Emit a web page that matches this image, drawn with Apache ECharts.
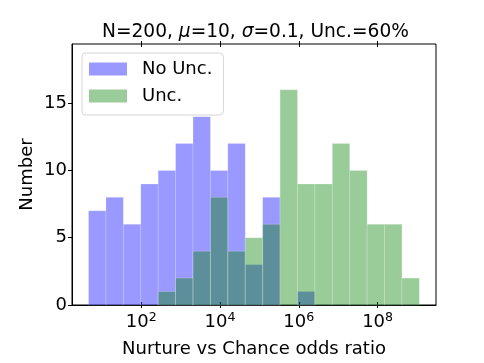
<!DOCTYPE html>
<html>
<head>
<meta charset="utf-8">
<script src="https://cdn.jsdelivr.net/npm/echarts@6/dist/echarts.min.js"></script>
<style>
  html, body { margin: 0; padding: 0; background: #fff; }
</style>
</head>
<body>
<div id="histChart" style="width: 484px; height: 363px;"></div>
<script>
// bin edges, log10 of the odds ratio
var binEdges = [0.662, 1.104, 1.546, 1.988, 2.430, 2.872, 3.314, 3.756, 4.198, 4.640,
                5.082, 5.524, 5.966, 6.408, 6.850, 7.292, 7.734, 8.176, 8.618, 9.060];
var noUncCounts = [7, 8, 6, 9, 10, 12, 14, 10, 12, 3, 8, 0, 1, 0, 0, 0, 0, 0, 0];
var uncCounts = [0, 0, 0, 0, 1, 2, 4, 8, 4, 5, 6, 16, 9, 9, 12, 10, 6, 6, 2];
var xTickExps = [2, 4, 6, 8];
var yTicks = [0, 5, 10, 15];

var FONT = 'DejaVu Sans';
var X_MIN = 0.242, X_MAX = 9.482;

function toBins(counts) {
    var out = [];
    for (var i = 0; i < counts.length; i++) {
        if (counts[i] > 0) out.push([binEdges[i], binEdges[i + 1], counts[i]]);
    }
    return out;
}

function drawBar(params, api) {
    var top = api.coord([api.value(0), api.value(2)]);
    var bot = api.coord([api.value(1), 0]);
    return {
        type: 'rect',
        shape: { x: top[0], y: top[1], width: bot[0] - top[0], height: bot[1] - top[1] },
        style: { fill: api.visual('color'), stroke: 'rgba(255,255,255,0.25)', lineWidth: 0.8 }
    };
}

var chart = echarts.init(document.getElementById('histChart'));

function extraAxis(pos, inside) {
    return {
        type: 'value', position: pos, min: X_MIN, max: X_MAX,
        axisLine: { show: false },
        splitLine: { show: false },
        axisLabel: { show: false },
        axisTick: { show: true, inside: inside, length: 3, customValues: xTickExps,
                    lineStyle: { color: '#000', width: 1 } }
    };
}

var option = {
    animation: false,
    backgroundColor: '#fff',
    title: {
        text: 'N=200, {i|μ}=10, {i|σ}=0.1, Unc.=60%',
        left: 97,
        top: 18,
        textStyle: {
            fontFamily: FONT, fontSize: 18.6, fontWeight: 'normal', color: '#000',
            rich: { i: { fontFamily: FONT, fontSize: 18.6, fontStyle: 'italic', color: '#000' } }
        }
    },
    grid: {
        left: 72, right: 48, top: 44, bottom: 56,
        show: true, borderColor: '#000', borderWidth: 1, backgroundColor: 'transparent'
    },
    legend: {
        orient: 'vertical',
        left: 82, top: 53,
        padding: [7, 11, 10, 7],
        itemWidth: 38, itemHeight: 13, itemGap: 9,
        icon: 'rect',
        backgroundColor: 'rgba(255,255,255,0.8)',
        borderColor: '#d5d5d5', borderWidth: 1, borderRadius: 4,
        textStyle: { fontFamily: FONT, fontSize: 18, color: '#000', padding: [0, 0, 0, 10] },
        data: ['No Unc.', 'Unc.']
    },
    xAxis: [
        {
            type: 'value', min: X_MIN, max: X_MAX,
            name: 'Nurture vs Chance odds ratio',
            nameLocation: 'middle', nameGap: 35,
            nameTextStyle: { fontFamily: FONT, fontSize: 18, color: '#000' },
            axisLine: { show: true, lineStyle: { color: '#000', width: 1 } },
            splitLine: { show: false },
            axisTick: { show: true, length: 3, customValues: xTickExps,
                        lineStyle: { color: '#000', width: 1 } },
            axisLabel: {
                customValues: xTickExps, margin: 6,
                formatter: function (v) { return '{b|10}{s|' + v + '}'; },
                rich: {
                    b: { fontFamily: FONT, fontSize: 18, color: '#000' },
                    s: { fontFamily: FONT, fontSize: 12.6, color: '#000', padding: [0, 0, 9, 0] }
                }
            }
        },
        extraAxis('bottom', true),
        extraAxis('top', false),
        extraAxis('top', true)
    ],
    yAxis: {
        type: 'value', min: 0, max: 19.4, interval: 5,
        name: 'Number', nameLocation: 'middle', nameGap: 36, nameMoveOverlap: false,
        nameTextStyle: { fontFamily: FONT, fontSize: 18, color: '#000' },
        axisLine: { show: true, lineStyle: { color: '#000', width: 1 } },
        splitLine: { show: false },
        axisTick: { show: true, length: 4, customValues: yTicks,
                    lineStyle: { color: '#000', width: 1 } },
        axisLabel: { customValues: yTicks, margin: 5, fontFamily: FONT, fontSize: 18, color: '#000' }
    },
    series: [
        {
            name: 'No Unc.', type: 'custom', renderItem: drawBar,
            itemStyle: { color: 'rgba(0,0,255,0.4)' },
            encode: { x: [0, 1], y: 2 },
            data: toBins(noUncCounts)
        },
        {
            name: 'Unc.', type: 'custom', renderItem: drawBar,
            itemStyle: { color: 'rgba(0,128,0,0.4)' },
            encode: { x: [0, 1], y: 2 },
            data: toBins(uncCounts)
        }
    ]
};

chart.setOption(option);
</script>
</body>
</html>
